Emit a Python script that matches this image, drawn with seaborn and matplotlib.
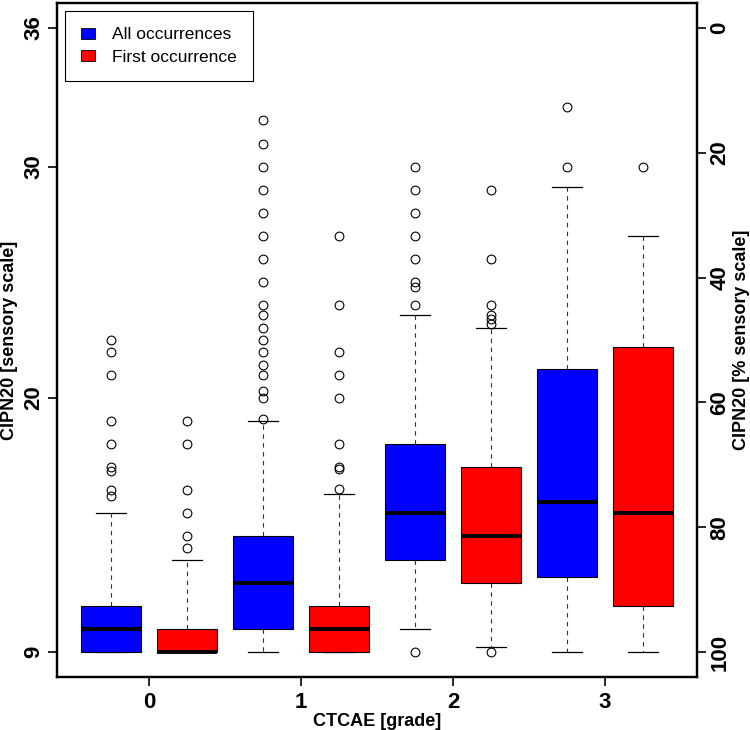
import numpy as np
import pandas as pd
import matplotlib
matplotlib.use("Agg")
import matplotlib.pyplot as plt
from matplotlib.patches import Patch
import seaborn as sns

# ---------------- data ----------------
grades = ["0", "1", "2", "3"]
series = ["All occurrences", "First occurrence"]
colors = ["#0000FF", "#FF0000"]

# one entry per box: grade 0 (All, First), grade 1 (All, First), ...
box_grade = ["0", "0", "1", "1", "2", "2", "3", "3"]
box_series = ["All occurrences", "First occurrence"] * 4
lower_whisker = [9, 9, 9, 9, 10, 9.2, 9, 9]
lower_quartile = [9, 9, 10, 9, 13, 12, 12.25, 11]
median = [10, 9, 12, 10, 15, 14, 15.5, 15]
upper_quartile = [11, 10, 14, 11, 18, 17, 21.25, 22.2]
upper_whisker = [15, 13, 19, 15.85, 23.6, 23, 29.1, 27]
outliers = [
    [15.75, 16, 16.85, 17, 18, 19, 21, 22, 22.5],
    [13.5, 14, 15, 16, 18, 19],
    [19.1, 20, 20.3, 21, 21.4, 22, 22.5, 23, 23.6, 24, 25, 26, 27, 28, 29, 30, 31, 32],
    [16.05, 16.9, 17, 18, 20, 21, 22, 24, 27],
    [9, 24, 24.8, 25, 26, 27, 28, 29, 30],
    [9, 23.2, 23.4, 23.6, 24, 26, 29],
    [30, 32.6],
    [30],
]

left_ticks = [9, 20, 30, 36]
right_ticks = [0, 20, 40, 60, 80, 100]
scale_min, scale_max = 9, 36

# --------------- build a table the library can summarise ---------------
# each box is represented by its five-number summary (quartiles repeated so
# the library's quantiles land exactly on them) plus its outliers
REP = 40
rows = []
whis_list = []
for i in range(len(box_grade)):
    lows = sorted(v for v in outliers[i] if v < lower_whisker[i])
    highs = sorted(v for v in outliers[i] if v > upper_whisker[i])
    vals = (lows + [lower_whisker[i]] + [lower_quartile[i]] * REP + [median[i]] * REP
            + [upper_quartile[i]] * REP + [upper_whisker[i]] + highs)
    n = len(vals)
    p_lo = 100 * (len(lows) - 0.5) / (n - 1) if lows else 0
    p_hi = 100 * (n - 1 - len(highs) + 0.5) / (n - 1) if highs else 100
    whis_list.append((p_lo, p_hi))
    for v in vals:
        rows.append({"grade": box_grade[i], "type": box_series[i], "value": v, "box": i})
df = pd.DataFrame(rows)
palette = dict(zip(series, colors))

# ---------------- plotting ----------------
plt.rcParams["font.family"] = ["Liberation Sans", "DejaVu Sans"]
fig = plt.figure(figsize=(7.5, 7.3), dpi=100)
ax = fig.add_axes([57 / 750, 1 - 677 / 730, 640 / 750, 674 / 730])

for i in range(len(box_grade)):
    sub = df[df["box"] == i]
    sns.boxplot(
        data=sub, x="grade", y="value", hue="type",
        order=grades, hue_order=series, palette=palette,
        dodge=True, width=1.0, gap=0.21, whis=whis_list[i],
        saturation=1, linecolor="black", linewidth=0.8, legend=False, ax=ax,
        medianprops=dict(linewidth=2.8, color="black"),
        whiskerprops=dict(linestyle=(0, (4, 4)), linewidth=0.8, color="#333333"),
        capprops=dict(linewidth=0.9, color="black"),
        flierprops=dict(marker="o", markersize=6.3, markerfacecolor="none",
                        markeredgecolor="black", markeredgewidth=0.8),
    )

pad = 0.04 * (scale_max - scale_min)
ax.set_ylim(scale_min - pad, scale_max + pad)
ax.set_xlim(-0.605, 3.605)
ax.set_xticks(range(len(grades)))
ax.set_xticklabels(grades)
ax.set_yticks(left_ticks)
ax.set_yticklabels([str(t) for t in left_ticks])
ax.set_xlabel("CTCAE [grade]", fontsize=13, fontweight="bold", labelpad=0)
ax.set_ylabel("CIPN20 [sensory scale]", fontsize=13, fontweight="bold", labelpad=4)
ax.tick_params(axis="both", direction="out", length=6.5, width=1.2, labelsize=16)
ax.tick_params(axis="x", pad=4)
ax.tick_params(axis="y", pad=2.5)
for lab in ax.get_xticklabels():
    lab.set_fontweight("bold")
for lab in ax.get_yticklabels():
    lab.set_fontweight("bold")
    lab.set_rotation(90)
    lab.set_va("center")

ax2 = ax.twinx()


def to_pct(v):
    return (scale_max - v) / (scale_max - scale_min) * 100


lo, hi = ax.get_ylim()
ax2.set_ylim(to_pct(lo), to_pct(hi))
ax2.set_yticks(right_ticks)
ax2.set_yticklabels([str(t) for t in right_ticks])
ax2.tick_params(axis="y", direction="out", length=6.5, width=1.2, labelsize=16, pad=2.5)
for lab in ax2.get_yticklabels():
    lab.set_fontweight("bold")
    lab.set_rotation(90)
    lab.set_va("center")
ax2.set_ylabel("CIPN20 [% sensory scale]", fontsize=13, fontweight="bold",
               rotation=90, labelpad=2)

for a in (ax, ax2):
    for s in a.spines.values():
        s.set_linewidth(1.6)
        s.set_color("black")

handles = [Patch(facecolor=c, edgecolor="black", linewidth=0.6, label=s)
           for s, c in zip(series, colors)]
leg = ax2.legend(handles=handles, loc="upper left", bbox_to_anchor=(8 / 640, 1 - 8 / 674),
                 borderaxespad=0, fontsize=12.5, frameon=True, fancybox=False,
                 edgecolor="black", framealpha=1, handlelength=0.8, handleheight=0.6,
                 handletextpad=0.95, labelspacing=0.42, borderpad=0.95)
leg.get_frame().set_linewidth(0.8)

fig.savefig("out.png", dpi=100)
